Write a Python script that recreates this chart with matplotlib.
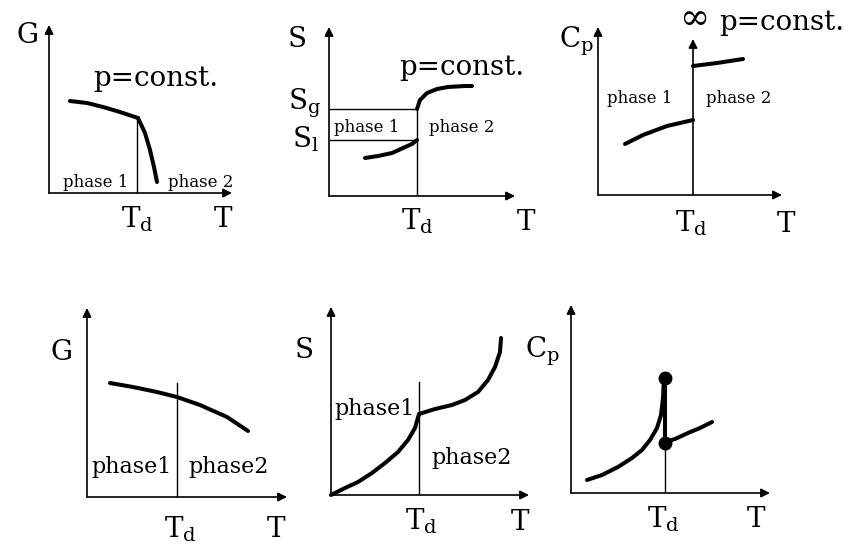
import matplotlib.pyplot as plt

plt.rcParams['font.family'] = 'DejaVu Serif'
plt.rcParams['mathtext.fontset'] = 'dejavuserif'

W, H = 858, 544

# ---- data: values (panel units, origin at the axes corner) ----
# top row
g1_T1 = [21, 38, 54, 71, 89]
g1_G1 = [92, 90, 86, 81, 75]
g1_T2 = [89, 96, 101, 105, 108]
g1_G2 = [75, 60, 43, 26, 11]

s1_T1 = [36, 49, 63, 74, 83, 88]
s1_S1 = [38, 40, 43, 48, 52, 56]
s1_T2 = [88, 91, 98, 108, 119, 136, 143]
s1_S2 = [87, 96, 103, 107, 109, 110, 110]
s1_levels = [87, 56]          # S_g, S_l

c1_T1 = [27, 45, 69, 95]
c1_C1 = [51, 60, 69, 75]
c1_T2 = [95, 119, 145]
c1_C2 = [129, 132, 136]

# bottom row
g2_T = [23, 46, 70, 90, 113, 140, 161]
g2_G = [114, 110, 105, 100, 92, 80, 66]

s2_T1 = [0, 14, 27, 41, 54, 67, 77, 84, 88]
s2_S1 = [0, 7, 13, 22, 32, 43, 55, 67, 81]
s2_T2 = [88, 104, 121, 134, 147, 157, 164, 169, 170]
s2_S2 = [81, 86, 90, 95, 103, 115, 128, 143, 157]

c2_T1 = [16, 31, 47, 61, 71, 79, 86, 90, 92, 93]
c2_C1 = [13, 18, 26, 35, 43, 53, 65, 78, 95, 115]
c2_T2 = [94, 104, 117, 129, 141]
c2_C2 = [51, 54, 60, 65, 71]
c2_dots_C = [115, 50]

fig = plt.figure(figsize=(W / 100, H / 100), dpi=100)
fig.patch.set_facecolor('white')

thick = 2.9
thin = 1.0


def panel(ox, oy, xlen, ylen):
    ax = fig.add_axes([ox / W, (H - oy) / H, xlen / W, ylen / H])
    ax.set_xlim(0, xlen)
    ax.set_ylim(0, ylen)
    ax.axis('off')
    arrow = dict(arrowstyle='-|>', lw=1.2, color='black',
                 mutation_scale=13, shrinkA=0, shrinkB=0)
    ax.annotate('', xy=(xlen, 0), xytext=(0, 0), arrowprops=arrow,
                annotation_clip=False)
    ax.annotate('', xy=(0, ylen), xytext=(0, 0), arrowprops=arrow,
                annotation_clip=False)
    return ax


def curve(ax, x, y):
    ax.plot(x, y, color='black', lw=thick, solid_capstyle='round',
            solid_joinstyle='round', clip_on=False)


big = 20
td = r'$\mathrm{T_d}$'

# ---- top left: G ----
ax = panel(49, 193, 183, 168)
ax.plot([88, 88], [0, 75], color='black', lw=thin)
curve(ax, g1_T1, g1_G1)
curve(ax, g1_T2, g1_G2)
ax.text(-21, 150, 'G', fontsize=big, ha='center', va='baseline')
ax.text(107, 107, 'p=const.', fontsize=big, ha='center', va='baseline')
ax.text(47, 6, 'phase 1', fontsize=12, ha='center', va='baseline')
ax.text(152, 6, 'phase 2', fontsize=12, ha='center', va='baseline')
ax.text(88, -34, td, fontsize=big, ha='center', va='baseline')
ax.text(174, -34, 'T', fontsize=big, ha='center', va='baseline')

# ---- top middle: S ----
ax = panel(329, 196, 186, 169)
ax.plot([88, 88], [0, s1_levels[0]], color='black', lw=thin)
for lv in s1_levels:
    ax.plot([0, 88], [lv, lv], color='black', lw=thin)
curve(ax, s1_T1, s1_S1)
curve(ax, s1_T2, s1_S2)
ax.text(-32, 149, 'S', fontsize=big, ha='center', va='baseline')
ax.text(-8, 86, r'$\mathrm{S_g}$', fontsize=big, ha='right', va='baseline')
ax.text(-10, 49, r'$\mathrm{S_l}$', fontsize=big, ha='right', va='baseline')
ax.text(133, 121, 'p=const.', fontsize=big, ha='center', va='baseline')
ax.text(38, 64, 'phase 1', fontsize=12, ha='center', va='baseline')
ax.text(133, 64, 'phase 2', fontsize=12, ha='center', va='baseline')
ax.text(88, -34, td, fontsize=big, ha='center', va='baseline')
ax.text(197, -34, 'T', fontsize=big, ha='center', va='baseline')

# ---- top right: Cp ----
ax = panel(598, 195, 184, 168)
ax.annotate('', xy=(95, 156), xytext=(95, 0),
            arrowprops=dict(arrowstyle='-|>', lw=1.2, color='black',
                            mutation_scale=13, shrinkA=0, shrinkB=0),
            annotation_clip=False)
curve(ax, c1_T1, c1_C1)
curve(ax, c1_T2, c1_C2)
ax.text(95, 178, r'$\infty$', fontsize=26, ha='center', va='center')
ax.text(-4, 148, r'$\mathrm{C_p}$', fontsize=big, ha='right', va='baseline')
ax.text(184, 165, 'p=const.', fontsize=big, ha='center', va='baseline')
ax.text(42, 92, 'phase 1', fontsize=12, ha='center', va='baseline')
ax.text(141, 92, 'phase 2', fontsize=12, ha='center', va='baseline')
ax.text(93, -37, td, fontsize=big, ha='center', va='baseline')
ax.text(188, -37, 'T', fontsize=big, ha='center', va='baseline')

# ---- bottom left: G ----
ax = panel(87, 497, 200, 189)
ax.plot([90, 90], [0, 114], color='black', lw=thin)
curve(ax, g2_T, g2_G)
ax.text(-26, 137, 'G', fontsize=big, ha='center', va='baseline')
ax.text(45, 24, 'phase1', fontsize=16, ha='center', va='baseline')
ax.text(142, 24, 'phase2', fontsize=16, ha='center', va='baseline')
ax.text(93, -40, td, fontsize=big, ha='center', va='baseline')
ax.text(189, -40, 'T', fontsize=big, ha='center', va='baseline')

# ---- bottom middle: S ----
ax = panel(331, 495, 198, 188)
ax.plot([88, 88], [0, 113], color='black', lw=thin)
curve(ax, s2_T1, s2_S1)
curve(ax, s2_T2, s2_S2)
ax.text(-27, 137, 'S', fontsize=big, ha='center', va='baseline')
ax.text(44, 80, 'phase1', fontsize=16, ha='center', va='baseline')
ax.text(141, 31, 'phase2', fontsize=16, ha='center', va='baseline')
ax.text(90, -35, td, fontsize=big, ha='center', va='baseline')
ax.text(189, -35, 'T', fontsize=big, ha='center', va='baseline')

# ---- bottom right: Cp ----
ax = panel(571, 493, 199, 188)
ax.plot([94, 94], [0, 115], color='black', lw=thin)
ax.plot([94, 94], c2_dots_C, color='black', lw=thick)
curve(ax, c2_T1, c2_C1)
curve(ax, c2_T2, c2_C2)
ax.plot([94, 94], c2_dots_C, 'o', color='black', ms=9, clip_on=False)
ax.text(-11, 135, r'$\mathrm{C_p}$', fontsize=big, ha='right', va='baseline')
ax.text(92, -34, td, fontsize=big, ha='center', va='baseline')
ax.text(185, -34, 'T', fontsize=big, ha='center', va='baseline')

fig.savefig('out.png', dpi=100, facecolor='white')
